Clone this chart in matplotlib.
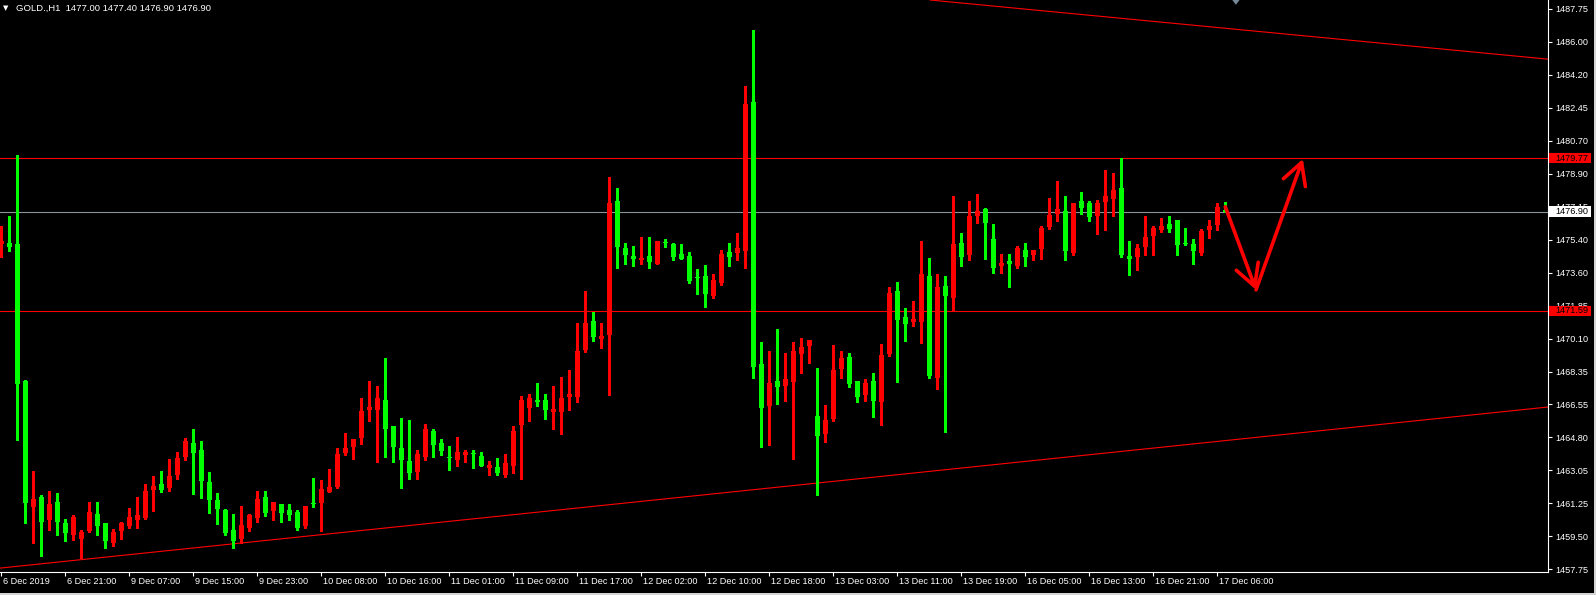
import matplotlib
matplotlib.use('Agg')
import matplotlib.pyplot as plt
import matplotlib.transforms as mtransforms
from matplotlib.patches import Rectangle, Polygon

plt.rcParams['font.family'] = ['Liberation Sans', 'DejaVu Sans']

# ---------------- data (GOLD H1) ----------------
opens = [1475.18, 1475.22, 1475.17, 1467.83, 1461.10, 1461.62, 1460.39, 1461.36, 1460.23, 1459.59,
         1459.39, 1459.82, 1460.71, 1460.23, 1459.17, 1459.82, 1460.09, 1460.39, 1460.50, 1461.99,
         1462.32, 1462.12, 1462.82, 1463.78, 1464.52, 1464.14, 1462.43, 1461.46, 1460.93, 1459.86,
         1459.37, 1459.98, 1460.51, 1461.62, 1460.89, 1461.25, 1460.93, 1460.82, 1460.09, 1461.25,
         1461.32, 1461.91, 1462.17, 1463.99, 1464.32, 1464.80, 1466.30, 1466.30, 1466.82, 1465.42,
         1464.25, 1463.55, 1462.98, 1463.78, 1465.16, 1464.52, 1463.71, 1463.62, 1463.89, 1463.92,
         1463.82, 1463.19, 1463.25, 1462.82, 1463.30, 1465.49, 1466.39, 1466.82, 1466.82, 1466.17,
         1466.17, 1466.98, 1466.98, 1469.49, 1471.05, 1470.08, 1470.30, 1477.47, 1474.96, 1474.53,
         1474.31, 1474.53, 1474.10, 1475.22, 1475.17, 1474.63, 1474.53, 1473.35, 1473.46, 1472.38,
         1473.08, 1474.74, 1474.69, 1474.79, 1482.77, 1468.74, 1466.49, 1467.83, 1467.56, 1467.78,
         1469.28, 1469.71, 1465.96, 1465.01, 1465.80, 1468.49, 1469.12, 1467.83, 1467.10, 1467.83,
         1466.72, 1469.29, 1472.65, 1471.26, 1471.01, 1471.01, 1473.46, 1468.01, 1472.92, 1472.29,
         1475.22, 1474.60, 1476.68, 1477.04, 1475.43, 1474.01, 1474.26, 1474.01, 1474.85, 1474.60,
         1474.92, 1476.08, 1476.79, 1476.93, 1474.70, 1477.47, 1477.36, 1476.68, 1477.43, 1477.59,
         1478.17, 1474.54, 1474.49, 1475.02, 1475.61, 1475.93, 1476.24, 1476.45, 1475.18, 1475.17,
         1474.70, 1475.93, 1476.20, 1477.00]
highs = [1476.13, 1476.67, 1479.93, 1467.90, 1463.01, 1461.73, 1461.94, 1461.84, 1460.45, 1460.66,
         1459.86, 1461.36, 1461.36, 1460.25, 1459.91, 1460.29, 1461.03, 1461.62, 1462.32, 1462.75,
         1463.01, 1463.66, 1464.03, 1464.78, 1465.26, 1464.62, 1462.96, 1461.84, 1460.95, 1460.71,
         1461.14, 1460.71, 1461.94, 1461.94, 1461.36, 1461.27, 1461.27, 1460.93, 1461.16, 1462.64,
         1462.53, 1463.12, 1464.25, 1465.05, 1464.75, 1466.92, 1467.83, 1467.56, 1469.06, 1465.44,
         1465.85, 1465.74, 1464.14, 1465.53, 1465.26, 1464.73, 1464.35, 1464.83, 1464.14, 1464.14,
         1464.03, 1463.56, 1463.73, 1463.94, 1465.42, 1467.03, 1467.14, 1467.72, 1467.14, 1467.56,
         1468.05, 1468.42, 1470.94, 1472.65, 1471.53, 1470.94, 1478.76, 1478.17, 1475.22, 1475.06,
         1475.54, 1475.54, 1475.33, 1475.43, 1475.22, 1475.17, 1474.74, 1473.83, 1474.04, 1473.56,
         1474.85, 1475.22, 1475.76, 1483.62, 1486.63, 1469.92, 1469.44, 1470.62, 1469.33, 1469.92,
         1470.13, 1470.05, 1468.53, 1466.55, 1469.76, 1469.44, 1469.33, 1467.85, 1467.94, 1468.26,
         1469.81, 1472.87, 1473.13, 1471.74, 1472.12, 1475.33, 1474.42, 1473.56, 1473.46, 1477.74,
         1475.76, 1477.47, 1477.85, 1477.10, 1476.24, 1474.63, 1474.63, 1475.06, 1475.22, 1474.87,
         1476.13, 1477.63, 1478.54, 1477.74, 1477.38, 1477.95, 1477.47, 1477.52, 1479.13, 1478.97,
         1479.77, 1475.33, 1475.17, 1476.67, 1476.13, 1476.56, 1476.67, 1476.47, 1476.03, 1475.43,
         1475.97, 1476.45, 1477.36, 1477.40]
lows = [1474.49, 1474.79, 1464.67, 1460.21, 1459.17, 1458.46, 1459.86, 1459.59, 1459.27, 1459.32,
        1458.37, 1459.75, 1459.61, 1458.91, 1459.01, 1459.39, 1459.96, 1459.96, 1460.45, 1460.87,
        1461.89, 1461.95, 1462.60, 1463.60, 1461.79, 1461.58, 1460.78, 1460.19, 1459.60, 1458.90,
        1459.17, 1459.82, 1460.30, 1460.62, 1460.41, 1460.30, 1460.41, 1459.87, 1459.98, 1461.11,
        1459.82, 1461.88, 1462.12, 1463.89, 1463.67, 1464.48, 1465.71, 1463.51, 1463.78, 1463.51,
        1462.12, 1462.60, 1462.60, 1463.62, 1463.78, 1463.89, 1463.07, 1463.30, 1463.51, 1463.19,
        1463.30, 1462.82, 1462.82, 1462.71, 1462.93, 1462.60, 1465.69, 1466.49, 1465.80, 1465.26,
        1464.99, 1466.28, 1466.71, 1469.39, 1469.97, 1469.60, 1467.08, 1473.88, 1474.10, 1473.99,
        1474.10, 1473.88, 1474.10, 1475.01, 1474.31, 1474.37, 1473.08, 1472.49, 1471.80, 1472.28,
        1472.97, 1473.99, 1474.31, 1473.88, 1468.00, 1464.30, 1464.41, 1466.60, 1466.76, 1463.66,
        1468.26, 1468.80, 1461.71, 1464.58, 1465.71, 1468.01, 1467.53, 1466.72, 1466.78, 1465.92,
        1465.49, 1469.19, 1467.80, 1469.99, 1470.80, 1469.88, 1468.01, 1467.42, 1465.12, 1471.65,
        1474.01, 1474.33, 1476.31, 1474.38, 1473.63, 1473.63, 1472.88, 1473.90, 1474.01, 1474.33,
        1474.38, 1475.99, 1476.42, 1474.33, 1474.60, 1476.79, 1476.42, 1475.72, 1475.93, 1476.68,
        1474.49, 1473.52, 1473.79, 1474.60, 1474.60, 1475.83, 1475.83, 1474.60, 1475.13, 1474.11,
        1474.60, 1475.51, 1475.93, 1476.90]
closes = [1475.33, 1475.01, 1467.67, 1461.32, 1461.52, 1460.30, 1461.25, 1460.30, 1459.71, 1460.55,
          1459.75, 1460.82, 1460.07, 1459.28, 1459.75, 1460.23, 1460.55, 1460.66, 1461.94, 1462.21,
          1461.99, 1462.75, 1463.71, 1464.62, 1463.99, 1462.50, 1461.48, 1460.99, 1459.71, 1459.28,
          1460.12, 1460.66, 1461.52, 1460.78, 1461.36, 1460.78, 1460.68, 1459.98, 1461.14, 1461.22,
          1462.05, 1462.16, 1463.92, 1464.25, 1464.73, 1466.23, 1466.44, 1466.92, 1465.28, 1464.32,
          1463.62, 1462.93, 1463.92, 1465.26, 1464.42, 1464.10, 1463.69, 1464.03, 1464.03, 1463.90,
          1463.30, 1463.35, 1462.93, 1463.46, 1465.16, 1466.82, 1466.92, 1466.71, 1466.28, 1466.33,
          1466.92, 1467.14, 1469.44, 1470.94, 1470.19, 1470.24, 1477.36, 1475.01, 1474.58, 1474.37,
          1474.42, 1474.21, 1475.33, 1475.20, 1474.47, 1474.37, 1473.19, 1473.33, 1472.49, 1473.24,
          1474.63, 1474.47, 1474.96, 1482.66, 1468.58, 1466.39, 1467.72, 1467.51, 1467.94, 1469.44,
          1469.65, 1470.03, 1464.89, 1465.75, 1468.42, 1469.06, 1467.69, 1466.99, 1467.72, 1466.78,
          1469.23, 1472.54, 1471.11, 1470.90, 1471.15, 1473.56, 1468.12, 1472.87, 1472.40, 1475.17,
          1474.49, 1476.67, 1476.93, 1476.31, 1473.90, 1474.15, 1474.12, 1474.96, 1474.49, 1474.85,
          1476.03, 1476.72, 1477.04, 1474.81, 1477.36, 1477.11, 1476.63, 1477.36, 1477.74, 1478.06,
          1474.60, 1474.38, 1474.96, 1475.54, 1476.03, 1476.13, 1475.99, 1475.13, 1475.17, 1474.81,
          1475.86, 1476.13, 1477.15, 1476.90]

time_labels = ["6 Dec 2019", "6 Dec 21:00", "9 Dec 07:00", "9 Dec 15:00", "9 Dec 23:00",
               "10 Dec 08:00", "10 Dec 16:00", "11 Dec 01:00", "11 Dec 09:00", "11 Dec 17:00",
               "12 Dec 02:00", "12 Dec 10:00", "12 Dec 18:00", "13 Dec 03:00", "13 Dec 11:00",
               "13 Dec 19:00", "16 Dec 05:00", "16 Dec 13:00", "16 Dec 21:00", "17 Dec 06:00"]
price_labels = ["1457.75", "1459.50", "1461.25", "1463.05", "1464.80", "1466.55", "1468.35",
                "1470.10", "1471.85", "1473.60", "1475.40", "1477.15", "1478.90", "1480.70",
                "1482.45", "1484.20", "1486.00", "1487.75"]
price_min, price_max = 1457.75, 1487.75

level_resist = 1479.77
level_support = 1471.59
bid_price = 1476.90
upper_trend_bars = [116.1, 193.4]
upper_trend_prices = [1488.23, 1485.06]
lower_trend_bars = [-0.2, 193.4]
lower_trend_prices = [1457.81, 1466.44]
arrow_bars = [153.0, 156.84, 162.7]
arrow_prices = [1477.16, 1472.71, 1479.72]
header = "GOLD.,H1  1477.00 1477.40 1476.90 1476.90"

# ---------------- figure ----------------
W, H = 1596, 595
fig = plt.figure(figsize=(W / 100, H / 100), dpi=100, facecolor='black')
ax = fig.add_axes([0, 1 - 571.5 / H, 1548 / W, 571.5 / H])
ax.set_facecolor('black')
ax.set_xlim(-0.1625, 193.34)
ax.set_ylim(1457.63, 1488.23)

for s in ['left', 'top']:
    ax.spines[s].set_visible(False)
for s in ['right', 'bottom']:
    ax.spines[s].set_color('white')
    ax.spines[s].set_linewidth(0.8)

RED = '#ff0000'
GREEN = '#00ff00'
idx = list(range(len(opens)))
cols = [RED if c > o else GREEN for o, c in zip(opens, closes)]
bottoms = [min(o, c) for o, c in zip(opens, closes)]
heights = [max(abs(c - o), 0.055) for o, c in zip(opens, closes)]

ax.vlines(idx, lows, highs, colors=cols, linewidth=0.75, antialiased=False, zorder=3)
ax.bar(idx, heights, bottom=bottoms, width=0.625, color=cols, linewidth=0,
       antialiased=False, zorder=4)

# levels and trend lines
ax.axhline(level_resist, color=RED, lw=0.8, zorder=2)
ax.axhline(level_support, color=RED, lw=0.8, zorder=2)
ax.axhline(bid_price, color='#8a939c', lw=0.8, zorder=2)
ax.plot(upper_trend_bars, upper_trend_prices, color=RED, lw=0.8, zorder=2)
ax.plot(lower_trend_bars, lower_trend_prices, color=RED, lw=0.8, zorder=2)

# hand-drawn forecast arrows
for k in range(2):
    ax.annotate('', xy=(arrow_bars[k + 1], arrow_prices[k + 1]),
                xytext=(arrow_bars[k], arrow_prices[k]),
                arrowprops=dict(arrowstyle='->,head_length=0.55,head_width=0.3',
                                color=RED, lw=2.6, shrinkA=0, shrinkB=0,
                                mutation_scale=28), zorder=6)

# y axis (right)
step = (price_max - price_min) / (len(price_labels) - 1)
yt = [price_min + k * step for k in range(len(price_labels))]
ax.yaxis.tick_right()
ax.set_yticks(yt, price_labels)
ax.tick_params(axis='y', colors='white', length=3, width=0.8, pad=2.2, labelsize=6.6)

# x axis
xt = [8 * k for k in range(len(time_labels))]
ax.set_xticks(xt, time_labels)
ax.tick_params(axis='x', colors='white', length=3, width=0.8, pad=1.2, labelsize=6.6)
off = mtransforms.ScaledTranslation(1.5 / 100, 0, fig.dpi_scale_trans)
for lbl in ax.get_xticklabels():
    lbl.set_horizontalalignment('left')
    lbl.set_transform(lbl.get_transform() + off)

# price boxes on the axis
bt = mtransforms.blended_transform_factory(ax.transAxes, ax.transData)
for price, fc, tc in [(level_resist, RED, 'black'), (level_support, RED, 'black'),
                      (bid_price, 'white', 'black')]:
    ax.add_patch(Rectangle((1.0009, price - 0.275), 0.0267, 0.55, transform=bt,
                           facecolor=fc, edgecolor='none', clip_on=False, zorder=10))
    ax.text(1.0045, price, f"{price:.2f}", transform=bt, ha='left', va='center',
            color=tc, fontsize=6.6, clip_on=False, zorder=11)

# header
fig.text(3.0 / W, 1 - 8.6 / H, '\u25bc', color='white', fontsize=5,
         family='DejaVu Sans', va='center', ha='left')
fig.text(15.5 / W, 1 - 8.6 / H, header, color='white', fontsize=6.8, va='center', ha='left')

# chart shift marker
fig.patches.append(Polygon([(1232.3 / W, 1.0), (1239.5 / W, 1.0), (1235.9 / W, 1 - 4.8 / H)],
                           closed=True, transform=fig.transFigure, facecolor='#778899',
                           edgecolor='none'))
# window border strips
fig.patches.append(Rectangle((0, 0), 1, 2 / H, transform=fig.transFigure,
                             facecolor='#d4d4d4', edgecolor='none'))
fig.patches.append(Rectangle((1 - 2 / W, 0), 2 / W, 1, transform=fig.transFigure,
                             facecolor='#d4d4d4', edgecolor='none'))

fig.savefig('out.png', dpi=100, facecolor='black')
